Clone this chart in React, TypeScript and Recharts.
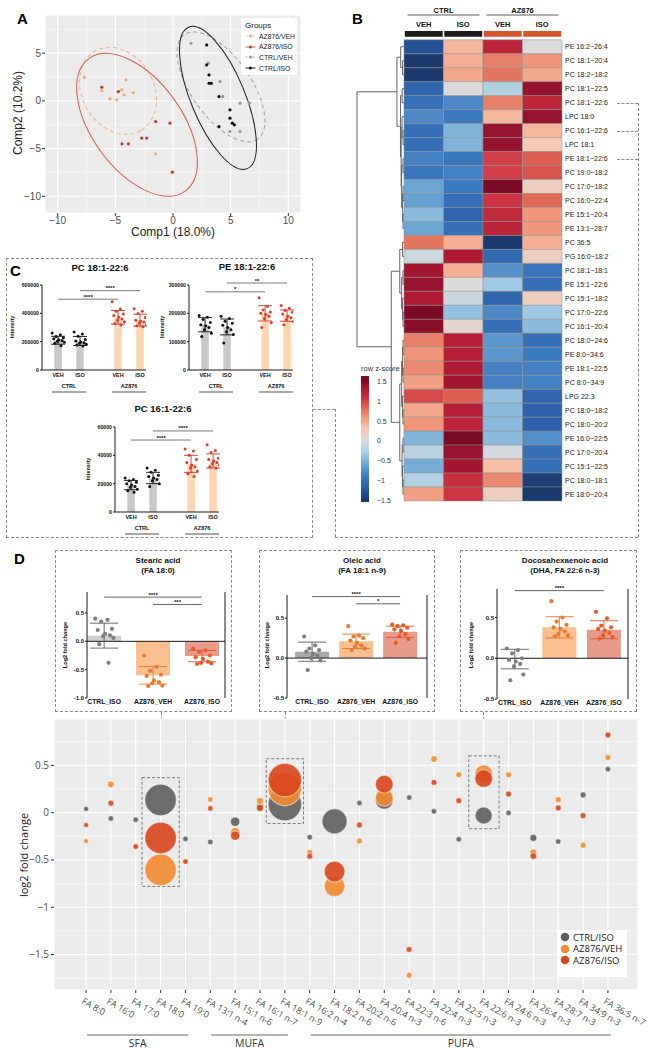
import React from "react";
import {
  ScatterChart,
  Scatter,
  ComposedChart,
  ErrorBar,
  XAxis,
  YAxis,
  ZAxis,
  CartesianGrid,
  ReferenceLine,
  ReferenceArea,
} from "recharts";

const SANS = "'Liberation Sans', Arial, Helvetica, sans-serif";
const OPEN = "'Open Sans', 'Liberation Sans', sans-serif";
const minus = (v: number | string) => String(v).replace("-", "\u2212");

// ---------- A: PCA scores ----------
const az876VehScores = [
  { x: -6.18, y: 1.08 }, { x: -5.46, y: 0.21 }, { x: -4.45, y: 1.15 }, { x: -4.25, y: 0.63 },
  { x: -4.08, y: 2.2 }, { x: -4.88, y: 0.1 }, { x: -3.44, y: 0.87 }, { x: -7.69, y: 2.48 }, { x: -1.5, y: -5.55 },
];
const az876IsoScores = [
  { x: -6.18, y: 1.43 }, { x: -4.74, y: 0.97 }, { x: -1.5, y: -2.17 }, { x: -0.26, y: -2.34 },
  { x: -2.71, y: -3.9 }, { x: -2.28, y: -3.9 }, { x: -4.42, y: -4.5 }, { x: -3.87, y: -4.5 }, { x: -0.06, y: -7.47 },
];
const ctrlVehScores = [
  { x: 1.56, y: 6.04 }, { x: 3.06, y: 3.95 }, { x: 4.08, y: 2.02 }, { x: 3.36, y: 1.85 },
  { x: 4.31, y: 0.45 }, { x: 5.81, y: -0.24 }, { x: 6.62, y: -0.24 }, { x: 4.94, y: -3.21 }, { x: 5.81, y: -3.21 },
];
const ctrlIsoScores = [
  { x: 2.92, y: 5.86 }, { x: 2.92, y: 3.77 }, { x: 3.12, y: 2.72 }, { x: 3.12, y: 1.85 }, { x: 3.3, y: 1.85 },
  { x: 3.99, y: 0.45 }, { x: 4.94, y: -0.94 }, { x: 4.94, y: -1.81 }, { x: 5.14, y: -2.34 }, { x: 5.32, y: -2.51 },
  { x: 3.99, y: -2.69 },
];
// confidence ellipses: centre, semi-axes (x units), tilt in degrees
const pcaEllipses = [
  { group: "AZ876/VEH", x: -4.77, y: 1.05, a: 3.97, b: 3.1, angle: 60 },
  { group: "AZ876/ISO", x: -3.12, y: -2.51, a: 7.1, b: 3.9, angle: 54 },
  { group: "CTRL/VEH", x: 4.16, y: 1.47, a: 5.53, b: 2.58, angle: 55 },
  { group: "CTRL/ISO", x: 3.9, y: 0.31, a: 6.64, b: 2.34, angle: 67.5 },
];
const pcaGroups = ["AZ876/VEH", "AZ876/ISO", "CTRL/VEH", "CTRL/ISO"];
const pcaScores: Record<string, { x: number; y: number }[]> = {
  "AZ876/VEH": az876VehScores,
  "AZ876/ISO": az876IsoScores,
  "CTRL/VEH": ctrlVehScores,
  "CTRL/ISO": ctrlIsoScores,
};
const pcaStyle: Record<string, { line: string; dot: string; dash?: string }> = {
  "AZ876/VEH": { line: "#f1b28a", dot: "#efaa7c", dash: "4 3" },
  "AZ876/ISO": { line: "#d4604f", dot: "#b9392c" },
  "CTRL/VEH": { line: "#a2a2a2", dot: "#989898", dash: "4 3" },
  "CTRL/ISO": { line: "#1f1f1f", dot: "#111111" },
};
const PCA_PX = 256 / 22.2;

// ---------- B: heatmap ----------
const lipidNames = [
  "PE 16:2\u221226:4", "PC 18:1\u221220:4", "PC 18:2\u221218:2", "PC 18:1\u221222:5", "PC 18:1\u221222:6",
  "LPC 18:0", "PC 16:1\u221222:6", "LPC 18:1", "PE 18:1\u221222:6", "PC 19:0\u221218:2", "PC 17:0\u221218:2",
  "PC 16:0\u221222:4", "PE 15:1\u221220:4", "PE 13:1\u221228:7", "PC 36:5", "PG 16:0\u221218:2",
  "PC 18:1\u221218:1", "PE 15:1\u221222:6", "PC 15:1\u221218:2", "PC 17:0\u221222:6", "PC 16:1\u221220:4",
  "PC 18:0\u221224:6", "PE 8:0\u221234:6", "PE 18:1\u221222:5", "PC 8:0\u221234:9", "LPG 22:3",
  "PC 18:0\u221218:2", "PC 18:0\u221220:2", "PE 16:0\u221222:5", "PC 17:0\u221220:4", "PC 15:1\u221222:5",
  "PC 18:0\u221218:1", "PE 18:0\u221220:4",
];
const zCtrlVeh = [-1.3, -1.5, -1.5, -1.1, -1.0, -0.8, -1.0, -1.0, -0.85, -0.95, -0.6, -0.65, -0.45, -0.6, 0.75, -0.1, 1.35, 1.4, 1.3, 1.5, 1.45, 0.7, 0.6, 0.65, 0.55, 0.95, 0.5, 0.6, -0.5, -0.2, -0.55, -0.25, 0.55];
const zCtrlIso = [0.4, 0.45, 0.5, 0.0, -0.8, -0.9, -0.5, -0.5, -0.95, -0.85, -0.9, -1.0, -1.1, -1.0, 0.45, 1.3, 0.45, 0.0, -0.1, -0.4, 0.1, 1.25, 1.25, 1.3, 1.35, 0.85, 1.25, 1.2, 1.5, 1.4, 1.35, 1.1, 1.05];
const zAzVeh = [1.2, 0.7, 0.75, -0.25, 0.7, 0.4, 1.4, 1.4, 1.0, 1.0, 1.5, 1.05, 1.15, 1.2, -1.5, -1.05, -0.75, -0.35, -1.1, -0.8, -1.0, -0.7, -0.7, -0.85, -0.85, -0.4, -0.45, -0.45, -0.45, -0.05, 0.35, 0.65, 0.2];
const zAzIso = [0.0, 0.6, 0.5, 1.4, 1.2, 1.4, 0.4, 0.25, 0.85, 0.9, 0.2, 0.8, 0.6, 0.6, 0.45, 0.2, -0.95, -1.0, 0.2, -0.35, -0.45, -1.0, -0.9, -0.85, -0.85, -1.1, -1.15, -1.15, -0.75, -1.0, -1.0, -1.45, -1.5];
const heatColumns = [zCtrlVeh, zCtrlIso, zAzVeh, zAzIso];
const treatLabels = ["VEH", "ISO", "VEH", "ISO"];
const strainLabels = ["CTRL", "AZ876"];
// row clustering: [left, right, merge height]
type Node = number | [Node, Node, number];
const topCluster: Node = [[0, [1, 2, 0.03], 0.07], [[3, 4, 0.04], [[5, [6, 7, 0.02], 0.04], [[8, 9, 0.02], [[10, 11, 0.02], [12, 13, 0.02], 0.03], 0.05], 0.06], 0.075], 0.15];
const bottomCluster: Node = [[[14, 15, 0.03], [[16, 17, 0.02], [18, [19, 20, 0.02], 0.03], 0.05], 0.09], [[[[21, 22, 0.02], [23, 24, 0.02], 0.03], [25, [26, 27, 0.02], 0.03], 0.05], [[28, 29, 0.02], [30, [31, 32, 0.02], 0.03], 0.04], 0.09], 0.27];
const rowTree: Node = [topCluster, bottomCluster, 1.0];
const zStops: [number, string][] = [
  [-1.5, "#1d3a6e"], [-1.2, "#2a5ca6"], [-0.9, "#3c7abf"], [-0.6, "#6ba6d3"], [-0.3, "#a9cfe5"],
  [0, "#dbdbdb"], [0.3, "#f6c6b0"], [0.55, "#f2a083"], [0.8, "#e06a56"], [1.05, "#cc3443"],
  [1.3, "#af1a33"], [1.5, "#7b0b24"],
];
const HEAT_COL = 39.5;
const DENDRO_W = 1.19;

// ---------- C: intensities ----------
const condX = [0, 1, 2.73, 3.73];
const condLabels = ["VEH", "ISO", "VEH", "ISO"];
const pc1822CtrlVeh = [262000, 248000, 236000, 228000, 220000, 214000, 208000, 203000, 196000, 188000, 172000];
const pc1822CtrlIso = [268000, 255000, 238000, 215000, 205000, 198000, 192000, 188000, 182000, 176000, 170000];
const pc1822AzVeh = [482000, 430000, 415000, 395000, 385000, 372000, 360000, 352000, 340000, 328000, 318000];
const pc1822AzIso = [432000, 415000, 398000, 370000, 352000, 345000, 338000, 332000, 320000, 312000, 305000];
const pc1822Mean = [210000, 205000, 372000, 352000];
const pc1822Sd = [28000, 32000, 48000, 42000];
const pe1822CtrlVeh = [192000, 186000, 178000, 168000, 160000, 156000, 150000, 142000, 130000, 118000];
const pe1822CtrlIso = [190000, 182000, 172000, 165000, 158000, 150000, 142000, 135000, 125000, 95000];
const pe1822AzVeh = [255000, 225000, 212000, 205000, 200000, 196000, 190000, 182000, 168000, 150000];
const pe1822AzIso = [228000, 218000, 210000, 204000, 198000, 190000, 184000, 178000, 170000, 160000];
const pe1822Mean = [160000, 152000, 200000, 192000];
const pe1822Sd = [25000, 28000, 27000, 20000];
const pc1622CtrlVeh = [24000, 23000, 22000, 21000, 20000, 19000, 18000, 17500, 16000, 15000, 14000];
const pc1622CtrlIso = [31000, 29500, 28000, 26000, 25000, 24000, 23000, 22000, 20000, 18000];
const pc1622AzVeh = [44500, 43000, 40000, 37000, 35000, 33000, 32000, 31000, 29000, 27000, 25000];
const pc1622AzIso = [47500, 43500, 42000, 38000, 37000, 36000, 35000, 34000, 33000, 32000, 31000];
const pc1622Mean = [19000, 24000, 34000, 36000];
const pc1622Sd = [3300, 4000, 6000, 5000];

// ---------- D: fold change insets ----------
const insetLabels = ["CTRL_ISO", "AZ876_VEH", "AZ876_ISO"];
const stearicCtrlIso = [0.4, 0.38, 0.35, 0.22, 0.2, 0.13, 0.105, 0.09, 0.06, -0.05, -0.38];
const stearicAzVeh = [-0.25, -0.45, -0.52, -0.59, -0.61, -0.69, -0.72, -0.74, -0.78, -0.79];
const stearicAzIso = [-0.13, -0.16, -0.19, -0.25, -0.28, -0.31, -0.36, -0.38, -0.39, -0.4];
const stearicMean = [0.1, -0.6, -0.26];
const stearicSd = [0.22, 0.155, 0.1];
const oleicCtrlIso = [0.27, 0.16, 0.12, 0.1, 0.08, 0.05, 0.03, 0.0, -0.03, -0.15];
const oleicAzVeh = [0.4, 0.28, 0.27, 0.25, 0.22, 0.19, 0.16, 0.14, 0.12, 0.1];
const oleicAzIso = [0.42, 0.41, 0.4, 0.38, 0.36, 0.34, 0.3, 0.27, 0.24, 0.19];
const oleicMean = [0.08, 0.21, 0.33];
const oleicSd = [0.12, 0.09, 0.07];
const dhaCtrlIso = [0.12, 0.1, 0.06, 0.0, -0.02, -0.04, -0.07, -0.1, -0.2, -0.27];
const dhaAzVeh = [0.7, 0.5, 0.45, 0.41, 0.38, 0.36, 0.33, 0.3, 0.28, 0.27];
const dhaAzIso = [0.57, 0.49, 0.4, 0.38, 0.36, 0.34, 0.31, 0.28, 0.26, 0.24];
const dhaMean = [-0.01, 0.38, 0.35];
const dhaSd = [0.12, 0.13, 0.11];

// ---------- D: bubble plot ----------
const fattyAcids = [
  "FA 8:0", "FA 16:0", "FA 17:0", "FA 18:0", "FA 19:0", "FA 13:1 n-4", "FA 15:1 n-6", "FA 16:1 n-7",
  "FA 18:1 n-9", "FA 16:2 n-4", "FA 18:2 n-6", "FA 20:2 n-6", "FA 20:4 n-3", "FA 22:3 n-6", "FA 22:4 n-3",
  "FA 22:5 n-3", "FA 22:6 n-3", "FA 24:6 n-3", "FA 26:4 n-3", "FA 28:7 n-3", "FA 34:9 n-3", "FA 36:5 n-7",
];
const fcCtrlIso = [0.04, -0.063, -0.074, 0.134, -0.278, -0.31, -0.095, 0.067, 0.09, -0.26, -0.092, 0.102, 0.13, 0.16, 0.014, -0.282, -0.03, -0.003, -0.267, -0.306, 0.187, 0.461];
const fcAzVeh = [-0.3, 0.3, -0.35, -0.605, -0.52, 0.14, -0.208, 0.123, 0.25, -0.42, -0.778, -0.3, 0.16, -1.72, 0.567, 0.4, 0.41, 0.4, -0.42, 0.137, -0.345, 0.584];
const fcAzIso = [-0.13, 0.1, -0.36, -0.267, -0.517, 0.045, -0.243, 0.05, 0.345, -0.46, -0.623, -0.13, 0.3, -1.447, 0.32, 0.127, 0.36, 0.197, -0.46, 0.05, -0.032, 0.82];
const sigCtrlIso = [1.0, 1.2, 1.2, 39, 1.2, 1.2, 3.4, 1.9, 44, 1.2, 24.5, 1.2, 12.5, 1.2, 1.2, 1.2, 11.5, 1.2, 1.9, 1.2, 1.4, 1.2];
const sigAzVeh = [1.0, 1.7, 1.2, 39, 1.2, 1.2, 3.4, 1.9, 44, 1.4, 17, 1.4, 12.5, 1.4, 1.7, 1.4, 12.5, 1.4, 1.7, 1.4, 1.4, 1.4];
const sigAzIso = [1.0, 1.4, 1.2, 39, 1.2, 1.2, 3.4, 1.9, 44, 1.4, 17, 1.4, 12.5, 1.4, 1.4, 1.4, 12.5, 1.4, 1.7, 1.4, 1.4, 1.4];
const faClasses = [
  { start: 0, end: 4, name: "SFA" },
  { start: 5, end: 8, name: "MUFA" },
  { start: 9, end: 21, name: "PUFA" },
];
const faHighlights = [
  { x1: 2.25, x2: 3.75, y1: -0.78, y2: 0.37 },
  { x1: 7.25, x2: 8.75, y1: -0.115, y2: 0.57 },
  { x1: 15.4, x2: 16.62, y1: -0.17, y2: 0.6 },
];
const FA_PX = 584 / 23.5;

const JIT = [-0.9, 0.35, -0.3, 0.8, -0.65, 0.1, 0.6, -0.1, 0.95, -0.5, 0.45];

// ---------- helpers ----------
function Txt({ x, y, size, children, weight = 400, color = "#111", anchor = "middle", family = SANS }: any) {
  const tx = anchor === "middle" ? "-50%" : anchor === "end" ? "-100%" : "0";
  return (
    <div
      style={{
        position: "absolute",
        left: x,
        top: y,
        transform: `translate(${tx}, -50%)`,
        fontSize: size,
        fontWeight: weight,
        color,
        fontFamily: family,
        whiteSpace: "nowrap",
        lineHeight: 1,
      }}
    >
      {children}
    </div>
  );
}

function VTxt({ x, y, size, children, weight = 400, color = "#111", family = SANS }: any) {
  return (
    <div
      style={{
        position: "absolute",
        left: x,
        top: y,
        transform: "translate(-50%, -50%) rotate(-90deg)",
        fontSize: size,
        fontWeight: weight,
        color,
        fontFamily: family,
        whiteSpace: "nowrap",
        lineHeight: 1,
      }}
    >
      {children}
    </div>
  );
}

const DASH = "1px dashed #8a8a8a";
const DashH = ({ x1, x2, y }: any) => (
  <div style={{ position: "absolute", left: x1, top: y, width: x2 - x1, height: 0, borderTop: DASH }} />
);
const DashV = ({ x, y1, y2 }: any) => (
  <div style={{ position: "absolute", left: x, top: y1, width: 0, height: y2 - y1, borderLeft: DASH }} />
);
const DashBox = ({ x1, y1, x2, y2 }: any) => (
  <div style={{ position: "absolute", left: x1, top: y1, width: x2 - x1, height: y2 - y1, border: DASH, boxSizing: "border-box" }} />
);

const dotShape = (color: string, r: number) => (p: any) =>
  p.cx == null ? <g /> : <circle cx={p.cx} cy={p.cy} r={r} fill={color} />;

function zColor(z: number) {
  if (z <= zStops[0][0]) return zStops[0][1];
  for (let i = 1; i < zStops.length; i++) {
    if (z <= zStops[i][0]) {
      const [z0, c0] = zStops[i - 1];
      const [z1, c1] = zStops[i];
      const t = (z - z0) / (z1 - z0);
      const a = parseInt(c0.slice(1), 16);
      const b = parseInt(c1.slice(1), 16);
      const ch = (s: number) => Math.round(((a >> s) & 255) * (1 - t) + ((b >> s) & 255) * t);
      return `rgb(${ch(16)},${ch(8)},${ch(0)})`;
    }
  }
  return zStops[zStops.length - 1][1];
}

// ---------- A ----------
function PcaPanel() {
  const ellipseShape = (group: string) => (p: any) => {
    const e = p.payload;
    const s = pcaStyle[group];
    return (
      <ellipse
        cx={p.cx}
        cy={p.cy}
        rx={e.a * PCA_PX}
        ry={e.b * PCA_PX}
        transform={`rotate(${e.angle} ${p.cx} ${p.cy})`}
        fill="none"
        stroke={s.line}
        strokeWidth={1}
        strokeDasharray={s.dash}
      />
    );
  };
  const tickStyle = { fontSize: 10, fill: "#4d4d4d", fontFamily: SANS };
  return (
    <div style={{ position: "absolute", left: 0, top: 0 }}>
      <ScatterChart width={305} height={240} margin={{ top: 15, right: 4, bottom: 0, left: 0 }}>
        <CartesianGrid fill="#ebebeb" fillOpacity={1} stroke="#ffffff" strokeWidth={1.1} />
        {[-7.5, -2.5, 2.5, 7.5].map((v) => (
          <ReferenceLine key={"mx" + v} x={v} stroke="#fff" strokeWidth={0.5} />
        ))}
        {[-7.5, -2.5, 2.5, 7.5].map((v) => (
          <ReferenceLine key={"my" + v} y={v} stroke="#fff" strokeWidth={0.5} />
        ))}
        <XAxis
          type="number"
          dataKey="x"
          domain={[-11.1, 11.1]}
          ticks={[-10, -5, 0, 5, 10]}
          interval={0}
          tickFormatter={minus}
          axisLine={false}
          tickLine={{ stroke: "#333" }}
          tickSize={3}
          tickMargin={1}
          height={27}
          tick={tickStyle}
          allowDataOverflow
        />
        <YAxis
          type="number"
          dataKey="y"
          domain={[-11.75, 9]}
          ticks={[-10, -5, 0, 5]}
          interval={0}
          tickFormatter={minus}
          axisLine={false}
          tickLine={{ stroke: "#333" }}
          tickSize={3}
          tickMargin={1}
          width={45}
          tick={tickStyle}
          allowDataOverflow
        />
        {pcaEllipses.map((e) => (
          <Scatter key={"e" + e.group} data={[e]} shape={ellipseShape(e.group)} isAnimationActive={false} />
        ))}
        {pcaGroups.map((g) => (
          <Scatter key={"p" + g} data={pcaScores[g]} shape={dotShape(pcaStyle[g].dot, 1.6)} isAnimationActive={false} />
        ))}
      </ScatterChart>
    </div>
  );
}

function PcaLegend() {
  return (
    <div style={{ position: "absolute", left: 241, top: 18, width: 56, height: 57, background: "#fff", fontFamily: SANS }}>
      <div style={{ position: "absolute", left: 4, top: 3, fontSize: 8, color: "#222" }}>Groups</div>
      {pcaGroups.map((g, i) => {
        const s = pcaStyle[g];
        return (
          <div key={g} style={{ position: "absolute", left: 4, top: 14 + i * 10.7, height: 8, display: "flex", alignItems: "center" }}>
            <svg width={11} height={8}>
              <line x1={0.5} x2={10.5} y1={4} y2={4} stroke={s.line} strokeWidth={1} strokeDasharray={s.dash ? "2 1.5" : undefined} />
              <circle cx={5.5} cy={4} r={1.5} fill={s.dot} />
            </svg>
            <span style={{ fontSize: 6.8, color: "#222", marginLeft: 3 }}>{g}</span>
          </div>
        );
      })}
    </div>
  );
}

// ---------- B ----------
function buildDendro(node: Node, out: number[][]): { y: number; h: number } {
  if (typeof node === "number") return { y: node, h: 0 };
  const [l, r, h] = node;
  const a = buildDendro(l, out);
  const b = buildDendro(r, out);
  out.push([-a.h * DENDRO_W, a.y, -h * DENDRO_W, a.y]);
  out.push([-b.h * DENDRO_W, b.y, -h * DENDRO_W, b.y]);
  out.push([-h * DENDRO_W, a.y, -h * DENDRO_W, b.y]);
  return { y: (a.y + b.y) / 2, h };
}

function HeatTopTick(props: any) {
  const { x, y, index } = props;
  return (
    <g fontFamily={SANS} fontWeight={700} fill="#111">
      <text x={x} y={y - 3.4} textAnchor="middle" fontSize={7.5}>
        {treatLabels[index]}
      </text>
      {index % 2 === 0 && (
        <g>
          <text x={x + HEAT_COL / 2} y={y - 17.4} textAnchor="middle" fontSize={7.5}>
            {strainLabels[index / 2]}
          </text>
          <line x1={x + HEAT_COL / 2 - 36} x2={x + HEAT_COL / 2 + 36} y1={y - 15} y2={y - 15} stroke="#333" strokeWidth={0.8} />
        </g>
      )}
    </g>
  );
}

function RowTick(props: any) {
  const { x, y, payload } = props;
  return (
    <text x={x} y={y + 2.5} fontSize={7} fill="#222" fontFamily={SANS} textAnchor="start">
      {lipidNames[payload.value]}
    </text>
  );
}

function HeatmapPanel() {
  const segs: number[][] = [];
  buildDendro(rowTree, segs);
  const rows = lipidNames.map((_, i) => i);
  const centres = rows.flatMap((r) => heatColumns.map((_, c) => ({ x: c + 0.5, y: r })));
  return (
    <div style={{ position: "absolute", left: 350, top: 0 }}>
      <ScatterChart width={300} height={505} margin={{ top: 0, right: 0, bottom: 4, left: 5 }}>
        <XAxis
          type="number"
          dataKey="x"
          orientation="top"
          domain={[-1.24, 4]}
          ticks={[0.5, 1.5, 2.5, 3.5]}
          interval={0}
          height={30}
          axisLine={false}
          tickLine={false}
          tickSize={0}
          tickMargin={0}
          tick={<HeatTopTick />}
          allowDataOverflow
        />
        <YAxis
          type="number"
          dataKey="y"
          orientation="right"
          reversed
          domain={[-1.2, 32.5]}
          ticks={rows}
          interval={0}
          width={88}
          axisLine={false}
          tickLine={false}
          tickSize={0}
          tickMargin={3}
          tick={<RowTick />}
          allowDataOverflow
        />
        {heatColumns.map((col, c) =>
          col.map((z, r) => (
            <ReferenceArea
              key={`h${c}-${r}`}
              x1={c}
              x2={c + 1}
              y1={r - 0.5}
              y2={r + 0.5}
              fill={zColor(z)}
              fillOpacity={1}
              stroke="#8e8e8e"
              strokeWidth={0.5}
              ifOverflow="visible"
            />
          ))
        )}
        {treatLabels.map((_, c) => (
          <ReferenceArea
            key={"bar" + c}
            x1={c + 0.02}
            x2={c + 0.98}
            y1={-1.13}
            y2={-0.72}
            fill={c < 2 ? "#1b1b1b" : "#d4552a"}
            fillOpacity={1}
            ifOverflow="visible"
          />
        ))}
        {segs.map((s, i) => (
          <ReferenceLine
            key={"d" + i}
            segment={[{ x: s[0], y: s[1] }, { x: s[2], y: s[3] }]}
            stroke="#555"
            strokeWidth={0.9}
            ifOverflow="visible"
          />
        ))}
        <Scatter data={centres} shape={() => <g />} isAnimationActive={false} />
      </ScatterChart>
    </div>
  );
}

function ZLegend() {
  const top = 1.62;
  const bottom = -1.55;
  const labels = [1.5, 1, 0.5, 0, -0.5, -1, -1.5];
  const grad = zStops
    .slice()
    .reverse()
    .map(([z, c]) => `${c} ${(((top - z) / (top - bottom)) * 100).toFixed(1)}%`)
    .join(", ");
  return (
    <>
      <Txt x={361} y={369} size={7.5} anchor="start" color="#333">row z-score</Txt>
      <div style={{ position: "absolute", left: 361, top: 376, width: 8, height: 126, background: `linear-gradient(to bottom, ${grad})` }} />
      {labels.map((v) => (
        <Txt key={v} x={377} y={376 + ((top - v) / (top - bottom)) * 126} size={7} anchor="start" color="#333">
          {minus(v)}
        </Txt>
      ))}
    </>
  );
}

// ---------- C ----------
function CondTick(props: any) {
  const { x, y, index } = props;
  return (
    <g fontFamily={SANS} fontWeight={700} fill="#111">
      <text x={x} y={y + 7} fontSize={5.5} textAnchor="middle">
        {condLabels[index]}
      </text>
      {index % 2 === 0 && (
        <g>
          <text x={x + 11} y={y + 18} fontSize={5.5} textAnchor="middle">
            {strainLabels[index / 2]}
          </text>
          <line x1={x - 6} x2={x + 28} y1={y + 22} y2={y + 22} stroke="#222" strokeWidth={0.8} />
        </g>
      )}
    </g>
  );
}

const cColors = [
  { bar: "#c8c8c8", dot: "#111111", err: "#111111" },
  { bar: "#c8c8c8", dot: "#111111", err: "#111111" },
  { bar: "#fdd6b0", dot: "#e2392c", err: "#d62f2f" },
  { bar: "#fdd6b0", dot: "#e2392c", err: "#d62f2f" },
];

function IntensityChart({ left, top, pts, means, sds, yMax, ticks, brackets }: any) {
  const data = condX.map((x, i) => ({ x, mean: means[i] }));
  const half = 0.17; // bar half-width in x units (15 px)
  return (
    <div style={{ position: "absolute", left, top: top - 6 }}>
      <ComposedChart width={136} height={121} data={data} margin={{ top: 11, right: 2, bottom: 0, left: 0 }}>
        <XAxis
          type="number"
          dataKey="x"
          domain={[-0.73, 4]}
          ticks={condX}
          interval={0}
          tick={<CondTick />}
          tickSize={0}
          tickMargin={0}
          tickLine={false}
          axisLine={{ stroke: "#000", strokeWidth: 0.9 }}
          height={25}
          allowDataOverflow
        />
        <YAxis
          type="number"
          domain={[0, yMax]}
          ticks={ticks}
          interval={0}
          width={30}
          tickSize={2}
          tickMargin={1}
          tick={{ fontSize: 5.2, fontWeight: 700, fill: "#111", fontFamily: SANS }}
          axisLine={{ stroke: "#000", strokeWidth: 0.9 }}
          tickLine={{ stroke: "#000", strokeWidth: 0.9 }}
          allowDataOverflow
        />
        {data.map((d, i) => (
          <ReferenceArea key={"bar" + i} x1={d.x - half} x2={d.x + half} y1={0} y2={d.mean} fill={cColors[i].bar} fillOpacity={1} />
        ))}
        {condX.map((x, i) => (
          <Scatter key={"err" + i} data={[{ x, y: means[i], sd: sds[i] }]} dataKey="y" shape={() => <g />} isAnimationActive={false}>
            <ErrorBar dataKey="sd" direction="y" width={7} stroke={cColors[i].err} strokeWidth={0.9} />
          </Scatter>
        ))}
        {condX.map((x, i) => (
          <Scatter
            key={"pts" + i}
            data={pts[i].map((v: number, k: number) => ({ x: x + JIT[k % JIT.length] * 0.3, y: v }))}
            dataKey="y"
            shape={dotShape(cColors[i].dot, 1.5)}
            isAnimationActive={false}
          />
        ))}
        {brackets.map((b: any, i: number) => (
          <ReferenceLine
            key={"b" + i}
            segment={[{ x: condX[b.from], y: b.y }, { x: condX[b.to], y: b.y }]}
            stroke="#555"
            strokeWidth={0.8}
            ifOverflow="visible"
            label={{ value: b.stars, position: "top", fontSize: 6, fontWeight: 700, fill: "#111", offset: 0.5 }}
          />
        ))}
      </ComposedChart>
    </div>
  );
}

function PanelC() {
  return (
    <>
      <DashBox x1={6} y1={258} x2={313} y2={538} />
      <Txt x={100} y={268} size={9.5} weight={700}>PC 18:1-22:6</Txt>
      <Txt x={247} y={267} size={9.5} weight={700}>PE 18:1-22:6</Txt>
      <Txt x={163} y={409} size={9.5} weight={700}>PC 16:1-22:6</Txt>
      <VTxt x={13} y={327} size={5.5} weight={700}>Intensity</VTxt>
      <VTxt x={163} y={327} size={5.5} weight={700}>Intensity</VTxt>
      <VTxt x={89} y={469} size={5.5} weight={700}>Intensity</VTxt>
      <IntensityChart
        left={12}
        top={280}
        pts={[pc1822CtrlVeh, pc1822CtrlIso, pc1822AzVeh, pc1822AzIso]}
        means={pc1822Mean}
        sds={pc1822Sd}
        yMax={600000}
        ticks={[0, 200000, 400000, 600000]}
        brackets={[
          { from: 0, to: 2, y: 500000, stars: "****" },
          { from: 1, to: 3, y: 560000, stars: "****" },
        ]}
      />
      <IntensityChart
        left={159}
        top={280}
        pts={[pe1822CtrlVeh, pe1822CtrlIso, pe1822AzVeh, pe1822AzIso]}
        means={pe1822Mean}
        sds={pe1822Sd}
        yMax={300000}
        ticks={[0, 100000, 200000, 300000]}
        brackets={[
          { from: 0, to: 2, y: 276000, stars: "*" },
          { from: 1, to: 3, y: 307000, stars: "**" },
        ]}
      />
      <IntensityChart
        left={85}
        top={422}
        pts={[pc1622CtrlVeh, pc1622CtrlIso, pc1622AzVeh, pc1622AzIso]}
        means={pc1622Mean}
        sds={pc1622Sd}
        yMax={60000}
        ticks={[0, 20000, 40000, 60000]}
        brackets={[
          { from: 0, to: 2, y: 50800, stars: "****" },
          { from: 1, to: 3, y: 57200, stars: "****" },
        ]}
      />
    </>
  );
}

// ---------- D insets ----------
const dColors = [
  { dot: "#7d7d7d", err: "#5a5a5a" },
  { bar: "#f9bf8e", dot: "#f0782a", err: "#e4772b" },
  { bar: "#e89b8b", dot: "#ea5a24", err: "#d9533a" },
];

function FoldInset({ left, plotTop, plotW, plotH, xDom, yDom, ticksY, pts, means, sds, ctrlBar, brackets }: any) {
  const xs = [0, 1, 2];
  const data = xs.map((x, i) => ({ x, mean: means[i] }));
  const bars = [ctrlBar, dColors[1].bar, dColors[2].bar];
  const half = (17 * (xDom[1] - xDom[0])) / plotW; // 34 px wide bars
  return (
    <div style={{ position: "absolute", left: left - 22, top: plotTop - 8 }}>
      <ComposedChart width={23 + plotW} height={8 + plotH + 12} data={data} margin={{ top: 8, right: 0, bottom: 0, left: 0 }}>
        <XAxis
          type="number"
          dataKey="x"
          domain={xDom}
          ticks={xs}
          interval={0}
          tickFormatter={(v: number) => insetLabels[v]}
          axisLine={false}
          tickLine={false}
          tickSize={0}
          tickMargin={1}
          height={12}
          tick={{ fontSize: 6.8, fontWeight: 700, fill: "#111", fontFamily: SANS }}
          allowDataOverflow
        />
        <YAxis
          type="number"
          domain={yDom}
          ticks={ticksY}
          interval={0}
          tickFormatter={(v: number) => v.toFixed(1)}
          width={22}
          tickSize={2}
          tickMargin={1}
          tick={{ fontSize: 6, fontWeight: 700, fill: "#111", fontFamily: SANS }}
          axisLine={{ stroke: "#000", strokeWidth: 0.9 }}
          tickLine={{ stroke: "#000", strokeWidth: 0.9 }}
          allowDataOverflow
        />
        <YAxis
          yAxisId="r"
          orientation="right"
          type="number"
          domain={yDom}
          width={1}
          tick={false}
          tickLine={false}
          axisLine={{ stroke: "#000", strokeWidth: 0.9 }}
          allowDataOverflow
        />
        {data.map((d, i) => (
          <ReferenceArea key={"bar" + i} x1={d.x - half} x2={d.x + half} y1={0} y2={d.mean} fill={bars[i]} fillOpacity={1} />
        ))}
        <ReferenceLine y={0} stroke="#000" strokeWidth={0.9} />
        {xs.map((x, i) => (
          <Scatter key={"err" + i} data={[{ x, y: means[i], sd: sds[i] }]} dataKey="y" shape={() => <g />} isAnimationActive={false}>
            <ErrorBar dataKey="sd" direction="y" width={14} stroke={dColors[i].err} strokeWidth={0.9} />
          </Scatter>
        ))}
        {xs.map((x, i) => (
          <Scatter
            key={"pts" + i}
            data={pts[i].map((v: number, k: number) => ({ x: x + JIT[k % JIT.length] * 0.2, y: v }))}
            dataKey="y"
            shape={dotShape(dColors[i].dot, 2.1)}
            isAnimationActive={false}
          />
        ))}
        {brackets.map((b: any, i: number) => (
          <ReferenceLine
            key={"b" + i}
            segment={[{ x: b.from, y: b.y }, { x: b.to, y: b.y }]}
            stroke="#555"
            strokeWidth={0.9}
            ifOverflow="visible"
            label={{ value: b.stars, position: "top", fontSize: 6, fontWeight: 700, fill: "#111", offset: 0.5 }}
          />
        ))}
      </ComposedChart>
    </div>
  );
}

function PanelDInsets() {
  return (
    <>
      <DashBox x1={55} y1={550} x2={232} y2={712} />
      <DashBox x1={259} y1={550} x2={435} y2={712} />
      <DashBox x1={460} y1={550} x2={637} y2={712} />
      <Txt x={158} y={561} size={8} weight={700}>Stearic acid</Txt>
      <Txt x={158} y={571} size={8} weight={700}>(FA 18:0)</Txt>
      <Txt x={362} y={561} size={8} weight={700}>Oleic acid</Txt>
      <Txt x={362} y={571} size={8} weight={700}>(FA 18:1 n-9)</Txt>
      <Txt x={565} y={561} size={8} weight={700}>Docosahexaenoic acid</Txt>
      <Txt x={565} y={571} size={8} weight={700}>(DHA, FA 22:6 n-3)</Txt>
      <VTxt x={66} y={645} size={5.6} weight={700}>Log2 fold change</VTxt>
      <VTxt x={268} y={645} size={5.6} weight={700}>Log2 fold change</VTxt>
      <VTxt x={472} y={645} size={5.6} weight={700}>Log2 fold change</VTxt>
      <FoldInset
        left={87}
        plotTop={592}
        plotW={138}
        plotH={106}
        xDom={[-0.35, 2.47]}
        yDom={[-1.0, 0.87]}
        ticksY={[-1.0, -0.5, 0.0, 0.5]}
        pts={[stearicCtrlIso, stearicAzVeh, stearicAzIso]}
        means={stearicMean}
        sds={stearicSd}
        ctrlBar="#cfcfcf"
        brackets={[
          { from: 0, to: 2, y: 0.78, stars: "****" },
          { from: 1, to: 2, y: 0.65, stars: "***" },
        ]}
      />
      <FoldInset
        left={287}
        plotTop={595}
        plotW={140}
        plotH={103}
        xDom={[-0.57, 2.61]}
        yDom={[-0.5, 0.79]}
        ticksY={[-0.5, 0.0, 0.5]}
        pts={[oleicCtrlIso, oleicAzVeh, oleicAzIso]}
        means={oleicMean}
        sds={oleicSd}
        ctrlBar="#a8a8a8"
        brackets={[
          { from: 0, to: 2, y: 0.77, stars: "****" },
          { from: 1, to: 2, y: 0.68, stars: "*" },
        ]}
      />
      <FoldInset
        left={497}
        plotTop={588.5}
        plotW={131}
        plotH={110}
        xDom={[-0.4, 2.54]}
        yDom={[-0.5, 0.85]}
        ticksY={[-0.5, 0.0, 0.5]}
        pts={[dhaCtrlIso, dhaAzVeh, dhaAzIso]}
        means={dhaMean}
        sds={dhaSd}
        ctrlBar="#d8d8d8"
        brackets={[{ from: 0, to: 2, y: 0.83, stars: "****" }]}
      />
    </>
  );
}

// ---------- D bubble plot ----------
function FaTick(props: any) {
  const { x, y, index } = props;
  const grp = faClasses.find((g) => g.start === index);
  const tx = x - 5;
  const ty = y + 8;
  return (
    <g>
      <text x={tx} y={ty} transform={`rotate(30 ${tx} ${ty})`} fontSize={9} fill="#4d4d4d" fontFamily={OPEN}>
        {fattyAcids[index]}
      </text>
      {grp && (
        <g>
          <line x1={x + 1} x2={x + (grp.end - grp.start) * FA_PX + 3} y1={y + 40} y2={y + 40} stroke="#666" strokeWidth={1} />
          <text x={x + ((grp.end - grp.start) * FA_PX) / 2 + 2} y={y + 51.5} textAnchor="middle" fontSize={10.5} fill="#333" fontFamily={OPEN}>
            {grp.name}
          </text>
        </g>
      )}
    </g>
  );
}

const bubbleSeries = [
  { name: "CTRL/ISO", vals: fcCtrlIso, sig: sigCtrlIso, color: "#5e5e5e" },
  { name: "AZ876/VEH", vals: fcAzVeh, sig: sigAzVeh, color: "#f28a2e" },
  { name: "AZ876/ISO", vals: fcAzIso, sig: sigAzIso, color: "#d8461d" },
];

function BubblePanel() {
  const idx = fattyAcids.map((_, i) => i);
  return (
    <div style={{ position: "absolute", left: 0, top: 700 }}>
      <ScatterChart width={650} height={348} margin={{ top: 19, right: 12, bottom: 0, left: 0 }}>
        <CartesianGrid fill="#ebebeb" fillOpacity={1} stroke="#ffffff" strokeWidth={1.1} />
        {[-1.75, -1.25, -0.75, -0.25, 0.25, 0.75].map((v) => (
          <ReferenceLine key={"m" + v} y={v} stroke="#fff" strokeWidth={0.5} />
        ))}
        <XAxis
          type="number"
          dataKey="x"
          domain={[-1.29, 22.21]}
          ticks={idx}
          interval={0}
          tick={<FaTick />}
          height={58}
          tickSize={3}
          tickMargin={2}
          axisLine={false}
          tickLine={{ stroke: "#333" }}
          allowDataOverflow
        />
        <YAxis
          type="number"
          dataKey="y"
          domain={[-1.875, 0.99]}
          ticks={[-1.5, -1, -0.5, 0, 0.5]}
          interval={0}
          tickFormatter={minus}
          width={54}
          tickSize={3}
          tickMargin={2}
          axisLine={false}
          tickLine={{ stroke: "#333" }}
          tick={{ fontSize: 10, fill: "#4d4d4d", fontFamily: OPEN }}
          allowDataOverflow
        />
        <ZAxis type="number" dataKey="z" domain={[0, 45]} range={[0, 900]} />
        {bubbleSeries.map((s) => (
          <Scatter
            key={s.name}
            name={s.name}
            data={s.vals.map((v, i) => ({ x: i, y: v, z: s.sig[i] }))}
            fill={s.color}
            fillOpacity={0.9}
            stroke="#ffffff"
            strokeOpacity={0.45}
            strokeWidth={1.3}
            isAnimationActive={false}
          />
        ))}
        {faHighlights.map((h, i) => (
          <ReferenceArea
            key={"hl" + i}
            x1={h.x1}
            x2={h.x2}
            y1={h.y1}
            y2={h.y2}
            fill="none"
            fillOpacity={0}
            stroke="#7a7a7a"
            strokeWidth={1}
            strokeDasharray="3 2"
            ifOverflow="visible"
          />
        ))}
      </ScatterChart>
    </div>
  );
}

function BubbleLegend() {
  return (
    <div style={{ position: "absolute", left: 557, top: 930, width: 70, height: 47, background: "#fff", fontFamily: OPEN }}>
      {bubbleSeries.map((s, i) => (
        <div key={s.name} style={{ position: "absolute", left: 3, top: 7 + i * 11.5 - 5, height: 10, display: "flex", alignItems: "center" }}>
          <svg width={10} height={10}>
            <circle cx={5} cy={5} r={4.3} fill={s.color} />
          </svg>
          <span style={{ fontSize: 9.5, color: "#222", marginLeft: 3 }}>{s.name}</span>
        </div>
      ))}
    </div>
  );
}

export default function App() {
  return (
    <div style={{ position: "absolute", left: 0, top: 0, width: 650, height: 1048, background: "#fff", overflow: "hidden", fontFamily: SANS }}>
      <PcaPanel />
      <PcaLegend />
      <Txt x={173} y={232} size={12} color="#222">Comp1 (18.0%)</Txt>
      <VTxt x={18} y={113} size={12} color="#222">Comp2 (10.2%)</VTxt>

      <HeatmapPanel />
      <ZLegend />

      {/* connector from C to heatmap rows */}
      <DashH x1={617} x2={638} y={103} />
      <DashH x1={617} x2={638} y={131} />
      <DashH x1={617} x2={638} y={159} />
      <DashV x={638} y1={103} y2={537} />
      <DashH x1={335} x2={638} y={537} />
      <DashV x={335} y1={409} y2={537} />
      <DashH x1={313} x2={335} y={409} />

      <PanelC />
      <PanelDInsets />

      <DashV x={161} y1={712} y2={777} />
      <DashV x={285} y1={712} y2={758} />
      <DashV x={483} y1={712} y2={755} />

      <BubblePanel />
      <BubbleLegend />
      <VTxt x={23} y={855} size={11} color="#222" family={OPEN}>log2 fold change</VTxt>

      <Txt x={17} y={18} size={15} weight={700} anchor="start" color="#000">A</Txt>
      <Txt x={352} y={18} size={15} weight={700} anchor="start" color="#000">B</Txt>
      <Txt x={10} y={270} size={15} weight={700} anchor="start" color="#000">C</Txt>
      <Txt x={14} y={558} size={15} weight={700} anchor="start" color="#000">D</Txt>
    </div>
  );
}
